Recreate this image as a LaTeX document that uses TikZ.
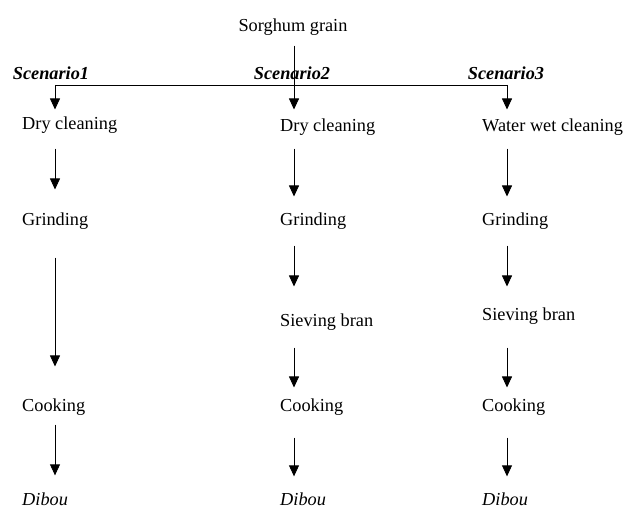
\documentclass[tikz,border=0pt]{standalone}
\usepackage{fontspec}
\setmainfont{Liberation Serif}
\usetikzlibrary{arrows.meta}
\begin{document}
\begin{tikzpicture}[x=1pt, y=-1pt,
    every node/.style={inner sep=0pt, font=\fontsize{18.3}{21}\selectfont},
    stage/.style={anchor=west},
    scen/.style={anchor=base, font=\fontsize{18.3}{21}\selectfont\bfseries\itshape},
    prod/.style={anchor=west, font=\fontsize{18.3}{21}\selectfont\itshape},
    link/.style={line width=0.8pt},
    flow/.style={-{Triangle[width=10pt,length=11pt]}, line width=0.8pt}]
    \useasboundingbox (0,0) rectangle (628,508);

    % Raw material and the split into three scenarios
    \node (grain) at (293,27) {Sorghum grain};
    \coordinate (split1) at (55,85);
    \coordinate (split2) at (294,85);
    \coordinate (split3) at (507,85);
    \draw[link, shorten <=10pt] (grain.south -| split2) -- (split2);
    \draw[link] (split1) -- (split3);
    \node[scen] (scen1) at (51,80) {Scenario1};
    \node[scen] (scen2) at (292,80) {Scenario2};
    \node[scen] (scen3) at (506,80) {Scenario3};

    % Scenario 1
    \node[stage] (dry1) at (22,125) {Dry cleaning};
    \node[stage] (grind1) at (22,221) {Grinding};
    \node[stage] (cook1) at (22,407) {Cooking};
    \node[prod] (dibou1) at (22,499) {Dibou};
    \draw[flow, shorten >=7pt] (split1) -- (dry1.north -| split1);
    \draw[flow, shorten <=15pt, shorten >=23pt] (dry1.south -| split1) -- (grind1.north -| split1);
    \draw[flow, shorten <=28pt, shorten >=32pt] (grind1.south -| split1) -- (cook1.north -| split1);
    \draw[flow, shorten <=9pt, shorten >=17pt] (cook1.south -| split1) -- (dibou1.north -| split1);

    % Scenario 2
    \node[stage] (dry2) at (280,127) {Dry cleaning};
    \node[stage] (grind2) at (280,221) {Grinding};
    \node[stage] (sieve2) at (280,322) {Sieving bran};
    \node[stage] (cook2) at (280,407) {Cooking};
    \node[prod] (dibou2) at (280,499) {Dibou};
    \draw[flow, shorten >=9pt] (split2) -- (dry2.north -| split2);
    \draw[flow, shorten <=13pt, shorten >=16pt] (dry2.south -| split2) -- (grind2.north -| split2);
    \draw[flow, shorten <=16pt, shorten >=27pt] (grind2.south -| split2) -- (sieve2.north -| split2);
    \draw[flow, shorten <=17pt, shorten >=11pt] (sieve2.south -| split2) -- (cook2.north -| split2);
    \draw[flow, shorten <=22pt, shorten >=16pt] (cook2.south -| split2) -- (dibou2.north -| split2);

    % Scenario 3
    \node[stage] (wet3) at (482,127) {Water wet cleaning};
    \node[stage] (grind3) at (482,221) {Grinding};
    \node[stage] (sieve3) at (482,316) {Sieving bran};
    \node[stage] (cook3) at (482,407) {Cooking};
    \node[prod] (dibou3) at (482,499) {Dibou};
    \draw[flow, shorten >=9pt] (split3) -- (wet3.north -| split3);
    \draw[flow, shorten <=13pt, shorten >=16pt] (wet3.south -| split3) -- (grind3.north -| split3);
    \draw[flow, shorten <=16pt, shorten >=21pt] (grind3.south -| split3) -- (sieve3.north -| split3);
    \draw[flow, shorten <=23pt, shorten >=11pt] (sieve3.south -| split3) -- (cook3.north -| split3);
    \draw[flow, shorten <=22pt, shorten >=16pt] (cook3.south -| split3) -- (dibou3.north -| split3);
\end{tikzpicture}
\end{document}
